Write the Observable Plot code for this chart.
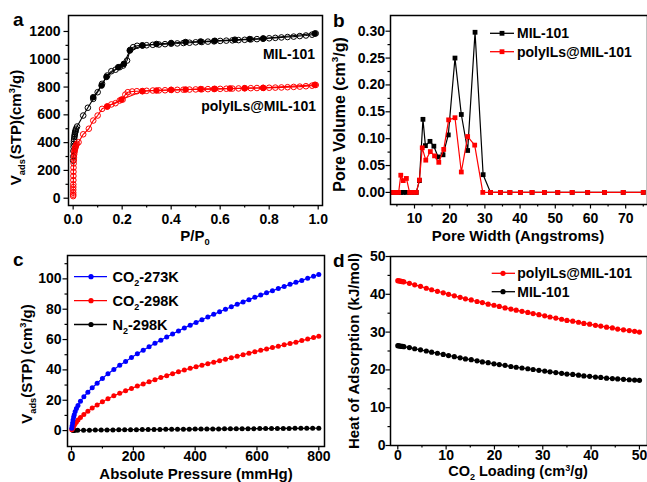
<!DOCTYPE html>
<html><head><meta charset="utf-8">
<script src="https://cdn.jsdelivr.net/npm/d3@7"></script>
<script src="https://cdn.jsdelivr.net/npm/@observablehq/plot@0.6"></script>
<style>
html,body{margin:0;padding:0;background:#fff;}
#fig{position:relative;width:647px;height:482px;overflow:hidden;background:#fff;}
#fig svg{position:absolute;left:0;top:0;background:transparent;}
</style></head><body><div id="fig"></div>
<script>
// ---------- Panel a: N2 isotherms ----------
const aMilAdsP = [0.0002,0.0005,0.001,0.0015,0.002,0.003,0.004,0.005,0.006,0.007,0.008,0.009,0.010,0.012,0.016,0.041,0.060,0.082,0.100,0.118,0.139,0.156,0.173,0.190,0.204,0.220,0.233,0.245,0.261,0.282,0.300,0.325,0.350,0.375,0.400,0.425,0.450,0.475,0.500,0.525,0.550,0.575,0.600,0.625,0.650,0.675,0.700,0.725,0.750,0.775,0.800,0.825,0.850,0.875,0.900,0.925,0.950,0.975,0.990];
const aMilAdsV = [270,300,340,370,390,410,425,440,452,462,472,480,488,500,516,595,651,715,763,823,883,914,925,943,955,991,1068,1087,1097,1100,1101,1104,1106,1109,1112,1114,1117,1119,1122,1124,1127,1129,1132,1134,1136,1138,1140,1143,1145,1148,1151,1154,1157,1160,1163,1167,1171,1177,1186];
const aMilDesP = [0.986,0.776,0.720,0.660,0.578,0.520,0.459,0.400,0.340,0.283,0.231,0.207,0.184,0.136,0.116,0.082];
const aMilDesV = [1185,1150,1145,1141,1133,1128,1124,1117,1110,1099,1063,967,943,873,811,727];
const aPolyAdsP = [0.0001,0.0002,0.0003,0.0004,0.0005,0.0006,0.0008,0.001,0.0012,0.0015,0.002,0.0025,0.003,0.004,0.005,0.006,0.007,0.008,0.009,0.010,0.012,0.015,0.022,0.041,0.064,0.082,0.100,0.118,0.139,0.156,0.173,0.190,0.202,0.213,0.223,0.241,0.260,0.282,0.300,0.325,0.350,0.375,0.400,0.425,0.450,0.475,0.500,0.525,0.550,0.575,0.600,0.625,0.650,0.675,0.700,0.725,0.750,0.775,0.800,0.825,0.850,0.875,0.900,0.925,0.950,0.975,0.990];
const aPolyAdsV = [15,25,40,60,80,100,130,160,190,220,250,275,295,315,330,342,352,360,367,373,382,392,403,460,500,559,595,643,660,675,684,703,710,746,763,768,770,771,773,775,776,777,779,780,781,782,783,784,785,786,787,788,789,790,791,792,793,794,795,796,797,799,801,803,806,810,815];
const aPolyDesP = [0.986,0.776,0.700,0.640,0.578,0.520,0.459,0.400,0.340,0.283,0.197,0.139];
const aPolyDesV = [816,794,792,790,787,785,782,780,775,770,710,660];
const aLabels = ["MIL-101", "polyILs@MIL-101"];

// ---------- Panel b: pore size distribution ----------
const bMilW  = [4.0,4.5,5.0,5.5,6.1,6.8,7.7,8.6,9.5,10.5,11.4,12.4,13.1,14.4,15.5,16.7,18.1,19.6,21.5,23.3,25.1,27.2,29.5,31.6,34.4,37.1,40.1,43.4,46.9,50.7,54.8,59.2,64.0,69.3,75.0];
const bMilV  = [0,0,0,0,0,0,0,0,0,0,0.022,0.136,0.087,0.095,0.086,0.066,0.070,0.107,0.250,0.145,0.078,0.298,0.033,0,0,0,0,0,0,0,0,0,0,0,0];
const bPolyW = [4.0,4.5,5.0,5.5,6.1,6.8,7.7,8.6,9.5,10.5,11.4,12.2,13.2,14.5,15.7,16.9,18.3,19.7,21.5,23.3,25.1,27.1,29.4,31.6,34.4,37.1,40.1,43.4,46.9,50.7,54.8,59.2,64.0,69.3,75.0];
const bPolyV = [0,0,0,0,0.032,0.022,0.026,0,0,0,0.023,0.083,0.060,0.076,0.068,0.056,0.080,0.135,0.139,0.038,0.104,0.088,0,0,0,0,0,0,0,0,0,0,0,0,0];
const bSeries = ["MIL-101", "polyILs@MIL-101"];

// ---------- Panel c: adsorption isotherms ----------
const cP = [1,2,3.5,5,7,9,12,16,21,29,40,53,67,83,100,118,137,156,175,194,213,232,251,270,289,308,327,346,365,384,403,422,441,460,479,498,517,536,555,574,593,612,631,650,669,688,707,726,745,764,783,800];
const cCO2_273 = [1.5,3,5,7,9,10.5,12.5,14.5,16.5,19.3,22.3,25.3,28.2,31.2,34.4,37.4,40.3,43,45.6,48.2,50.7,53,55.3,57.5,59.6,61.7,63.7,65.7,67.6,69.5,71.3,73.1,74.9,76.6,78.3,80,81.6,83.2,84.8,86.3,87.8,89.3,90.8,92.2,93.6,95,96.4,97.7,99,100.4,101.7,102.9];
const cCO2_298 = [0.5,1,1.5,2.2,3,3.6,4.6,5.7,6.9,8.6,10.6,12.7,14.8,16.9,19,21,22.9,24.6,26.2,27.8,29.3,30.7,32.1,33.5,34.9,36.2,37.5,38.7,39.9,41,42,43.1,44.1,45.1,46.1,47,48,49,50,51,52,52.9,53.8,54.7,55.6,56.5,57.4,58.3,59.3,60.3,61.3,62.2];
const cN2P = [5,10,20,39,58,77,96,115,134,153,172,191,210,229,248,267,286,305,324,343,362,381,400,419,438,457,476,495,514,533,552,571,590,609,628,647,666,685,704,723,742,761,780,800];
const cN2_298 = [0.05,0.1,0.15,0.2,0.25,0.3,0.35,0.4,0.45,0.5,0.55,0.6,0.62,0.65,0.7,0.72,0.75,0.8,0.83,0.86,0.9,0.93,0.96,1.0,1.03,1.06,1.09,1.12,1.15,1.18,1.2,1.23,1.26,1.29,1.32,1.35,1.38,1.4,1.43,1.46,1.48,1.5,1.52,1.55];
const cSeries = ["CO2-273K", "CO2-298K", "N2-298K"];

// ---------- Panel d: heat of adsorption ----------
const dLoad = [0,0.25,0.5,0.75,1,1.25,2.4,3.5,4.7,5.9,7.0,8.2,9.4,10.5,11.7,12.9,14,15.2,16.4,17.5,18.7,19.9,21,22.2,23.4,24.5,25.7,26.9,28,29.2,30.4,31.5,32.7,33.9,35,36.2,37.4,38.5,39.7,40.9,42,43.2,44.4,45.5,46.7,47.9,49,50];
const dPoly = [43.6,43.55,43.5,43.4,43.35,43.3,42.9,42.5,42.1,41.6,41.2,40.8,40.4,40.0,39.6,39.2,38.8,38.5,38.1,37.8,37.4,37.1,36.8,36.4,36.1,35.8,35.5,35.2,34.9,34.6,34.3,34.0,33.7,33.4,33.1,32.9,32.6,32.3,32.1,31.8,31.6,31.3,31.1,30.8,30.6,30.4,30.2,30.0];
const dMil = [26.4,26.35,26.3,26.25,26.2,26.15,25.9,25.6,25.3,25.0,24.7,24.4,24.1,23.8,23.5,23.2,22.9,22.7,22.4,22.1,21.9,21.6,21.4,21.2,20.9,20.7,20.5,20.3,20.1,19.9,19.7,19.5,19.3,19.1,18.9,18.8,18.6,18.4,18.3,18.1,18.0,17.8,17.7,17.6,17.5,17.4,17.3,17.25];
const dSeries = ["polyILs@MIL-101", "MIL-101"];

// ---------- helpers ----------
const W = 647, H = 482;
const FONT = "'Liberation Sans', Arial, Helvetica, sans-serif";
const BLACK = "#000000", RED = "#ff0000", BLUE = "#0000ff";
const zip = (xs, ys) => xs.slice(0, Math.min(xs.length, ys.length)).map((x, i) => ({x, y: ys[i]}));

function panel({frame: [x0, y0, x1, y1], xDomain, yDomain, xMajor, xMinor, yMajor, yMinor, xFmt, yFmt, xPad, yPad, marks}) {
  return Plot.plot({
    width: W, height: H,
    marginLeft: x0, marginRight: W - x1, marginTop: y0, marginBottom: H - y1,
    x: {domain: xDomain, label: null},
    y: {domain: yDomain, label: null},
    style: {fontFamily: FONT, fontSize: "14px", fontWeight: "bold", color: "#000", background: "transparent", overflow: "visible"},
    marks: [
      Plot.axisX(xMinor, {tickSize: 2.5, tickFormat: () => "", label: null, strokeWidth: 1.2}),
      Plot.axisX(xMajor, {tickSize: 4.5, tickPadding: xPad, tickFormat: xFmt, label: null, strokeWidth: 1.2}),
      Plot.axisY(yMinor, {tickSize: 2.5, tickFormat: () => "", label: null, strokeWidth: 1.2}),
      Plot.axisY(yMajor, {tickSize: 4.5, tickPadding: yPad, tickFormat: yFmt, label: null, strokeWidth: 1.2}),
      ...marks,
      Plot.frame({stroke: "#000", strokeWidth: 1.5})
    ]
  });
}

// text with sub/superscripts: parts = [[text, kind]] where kind is "", "sub", "sup"
function rich(svg, parts, {x, y, size = 15, anchor = "middle", rotate = 0, fill = "#000"}) {
  const t = d3.select(svg).append("text")
    .attr("transform", `translate(${x},${y}) rotate(${rotate})`)
    .attr("text-anchor", anchor).attr("font-size", size).attr("font-weight", "bold")
    .attr("font-family", FONT).attr("fill", fill);
  let shift = 0;
  for (const [s, kind] of parts) {
    const target = kind === "sub" ? size * 0.28 : kind === "sup" ? -size * 0.38 : 0;
    t.append("tspan").attr("dy", target - shift).attr("font-size", kind ? size * 0.62 : size).text(s);
    shift = target;
  }
  return t;
}
function parseLabel(s) {
  const m = s.match(/^([A-Z]+?)(2)(-.*)$/);
  return m ? [[m[1], ""], [m[2], "sub"], [m[3], ""]] : [[s, ""]];
}
function legend(svg, items, {lx0, lx1, mx, tx, ys, symbol, size = 14}) {
  const g = d3.select(svg).append("g");
  items.forEach(({label, color}, i) => {
    const yl = ys[i];
    g.append("line").attr("x1", lx0).attr("x2", lx1).attr("y1", yl).attr("y2", yl)
      .attr("stroke", color).attr("stroke-width", 1.3);
    if (symbol === "square") g.append("rect").attr("x", mx - 2.4).attr("y", yl - 2.4).attr("width", 4.8).attr("height", 4.8).attr("fill", color);
    else g.append("circle").attr("cx", mx).attr("cy", yl).attr("r", 2.6).attr("fill", color);
    rich(svg, parseLabel(label), {x: tx, y: yl + 5, size, anchor: "start"});
  });
}
const fig = document.getElementById("fig");

// ---------- Panel a ----------
{
  const milA = zip(aMilAdsP, aMilAdsV), milD = zip(aMilDesP, aMilDesV);
  const polA = zip(aPolyAdsP, aPolyAdsV), polD = zip(aPolyDesP, aPolyDesV);
  const svg = panel({
    frame: [68, 15, 322, 205], xDomain: [-0.019, 1.0176], yDomain: [-52.5, 1315],
    xMajor: [0, 0.2, 0.4, 0.6, 0.8, 1.0], xMinor: [0.1, 0.3, 0.5, 0.7, 0.9],
    yMajor: [0, 200, 400, 600, 800, 1000, 1200], yMinor: [100, 300, 500, 700, 900, 1100],
    xFmt: d => d.toFixed(1), yFmt: d => String(d), xPad: 4, yPad: 3.5,
    marks: [
      Plot.line(milA, {x: "x", y: "y", stroke: BLACK, strokeWidth: 1.1}),
      Plot.line(milD, {x: "x", y: "y", stroke: BLACK, strokeWidth: 1.1}),
      Plot.dot(milA, {x: "x", y: "y", r: 2.8, stroke: BLACK, fill: "none", strokeWidth: 1}),
      Plot.dot(milD, {x: "x", y: "y", r: 2.8, fill: BLACK, stroke: BLACK, strokeWidth: 1}),
      Plot.line(polA, {x: "x", y: "y", stroke: RED, strokeWidth: 1.1}),
      Plot.line(polD, {x: "x", y: "y", stroke: RED, strokeWidth: 1.1}),
      Plot.dot(polA, {x: "x", y: "y", r: 2.8, stroke: RED, fill: "none", strokeWidth: 1}),
      Plot.dot(polD, {x: "x", y: "y", r: 2.8, fill: RED, stroke: RED, strokeWidth: 1})
    ]
  });
  fig.appendChild(svg);
  rich(svg, [[aLabels[0], ""]], {x: 315, y: 58.5, size: 14, anchor: "end"});
  rich(svg, [[aLabels[1], ""]], {x: 316, y: 110.5, size: 14, anchor: "end"});
  rich(svg, [["P/P", ""], ["0", "sub"]], {x: 195, y: 241, size: 15});
  rich(svg, [["V", ""], ["ads", "sub"], ["(STP)(cm", ""], ["3", "sup"], ["/g)", ""]], {x: 21, y: 127.5, size: 15, rotate: -90});
  rich(svg, [["a", ""]], {x: 13, y: 26, size: 19, anchor: "start"});
}

// ---------- Panel b ----------
{
  const mil = zip(bMilW, bMilV), pol = zip(bPolyW, bPolyV);
  const svg = panel({
    frame: [390, 15, 647, 204], xDomain: [3.18, 76.2], yDomain: [-0.0225, 0.3292],
    xMajor: [10, 20, 30, 40, 50, 60, 70], xMinor: [5, 15, 25, 35, 45, 55, 65, 75],
    yMajor: [0, 0.05, 0.10, 0.15, 0.20, 0.25, 0.30], yMinor: [0.025, 0.075, 0.125, 0.175, 0.225, 0.275],
    xFmt: d => String(d), yFmt: d => d.toFixed(2), xPad: 4, yPad: 1,
    marks: [
      Plot.line(mil, {x: "x", y: "y", stroke: BLACK, strokeWidth: 1.2}),
      Plot.dot(mil, {x: "x", y: "y", symbol: "square", r: 2.7, fill: BLACK}),
      Plot.line(pol, {x: "x", y: "y", stroke: RED, strokeWidth: 1.2}),
      Plot.dot(pol, {x: "x", y: "y", symbol: "square", r: 2.7, fill: RED})
    ]
  });
  fig.appendChild(svg);
  legend(svg, [{label: bSeries[0], color: BLACK}, {label: bSeries[1], color: RED}],
    {lx0: 490, lx1: 514, mx: 502, tx: 517, ys: [33.3, 51.7], symbol: "square"});
  rich(svg, [["Pore Width (Angstroms)", ""]], {x: 518, y: 241, size: 15});
  rich(svg, [["Pore Volume (cm", ""], ["3", "sup"], ["/g)", ""]], {x: 344.5, y: 114.5, size: 16, rotate: -90});
  rich(svg, [["b", ""]], {x: 333, y: 26.5, size: 19, anchor: "start"});
}

// ---------- Panel c ----------
{
  const s273 = zip(cP, cCO2_273), s298 = zip(cP, cCO2_298), n2 = zip(cN2P, cN2_298);
  const svg = panel({
    frame: [67, 255, 324, 446], xDomain: [-12.9, 818.4], yDomain: [-10.5, 115.4],
    xMajor: [0, 200, 400, 600, 800], xMinor: [100, 300, 500, 700],
    yMajor: [0, 20, 40, 60, 80, 100], yMinor: [10, 30, 50, 70, 90, 110],
    xFmt: d => String(d), yFmt: d => String(d), xPad: 0.5, yPad: 1.5,
    marks: [
      Plot.line(n2, {x: "x", y: "y", stroke: BLACK, strokeWidth: 1.2}),
      Plot.dot(n2, {x: "x", y: "y", r: 2.5, fill: BLACK}),
      Plot.line(s298, {x: "x", y: "y", stroke: RED, strokeWidth: 1.2}),
      Plot.dot(s298, {x: "x", y: "y", r: 2.5, fill: RED}),
      Plot.line(s273, {x: "x", y: "y", stroke: BLUE, strokeWidth: 1.2}),
      Plot.dot(s273, {x: "x", y: "y", r: 2.5, fill: BLUE})
    ]
  });
  fig.appendChild(svg);
  legend(svg, [{label: cSeries[0], color: BLUE}, {label: cSeries[1], color: RED}, {label: cSeries[2], color: BLACK}],
    {lx0: 74, lx1: 107, mx: 91, tx: 112.5, ys: [276.7, 300.7, 324.5], symbol: "circle", size: 14.5});
  rich(svg, [["Absolute Pressure (mmHg)", ""]], {x: 196, y: 479, size: 15});
  rich(svg, [["V", ""], ["ads", "sub"], ["(STP) (cm", ""], ["3", "sup"], ["/g)", ""]], {x: 31.5, y: 364, size: 15, rotate: -90});
  rich(svg, [["c", ""]], {x: 13, y: 266, size: 19, anchor: "start"});
}

// ---------- Panel d ----------
{
  const pol = zip(dLoad, dPoly), mil = zip(dLoad, dMil);
  const svg = panel({
    frame: [390, 256, 647, 445], xDomain: [-1.51, 51.67], yDomain: [0, 50],
    xMajor: [0, 10, 20, 30, 40, 50], xMinor: [5, 15, 25, 35, 45],
    yMajor: [0, 10, 20, 30, 40, 50], yMinor: [5, 15, 25, 35, 45],
    xFmt: d => String(d), yFmt: d => String(d), xPad: 0, yPad: 0.5,
    marks: [
      Plot.line(mil, {x: "x", y: "y", stroke: BLACK, strokeWidth: 1.2}),
      Plot.dot(mil, {x: "x", y: "y", r: 2.6, fill: BLACK}),
      Plot.line(pol, {x: "x", y: "y", stroke: RED, strokeWidth: 1.2}),
      Plot.dot(pol, {x: "x", y: "y", r: 2.6, fill: RED})
    ]
  });
  fig.appendChild(svg);
  legend(svg, [{label: dSeries[0], color: RED}, {label: dSeries[1], color: BLACK}],
    {lx0: 491.7, lx1: 515, mx: 503, tx: 517.3, ys: [273.3, 291.7], symbol: "circle"});
  rich(svg, [["CO", ""], ["2", "sub"], [" Loading (cm", ""], ["3", "sup"], ["/g)", ""]], {x: 518, y: 476, size: 14.5});
  rich(svg, [["Heat of Adsorption (kJ/mol)", ""]], {x: 359, y: 351, size: 15, rotate: -90});
  rich(svg, [["d", ""]], {x: 333, y: 266.5, size: 19, anchor: "start"});
}
</script></body></html>
